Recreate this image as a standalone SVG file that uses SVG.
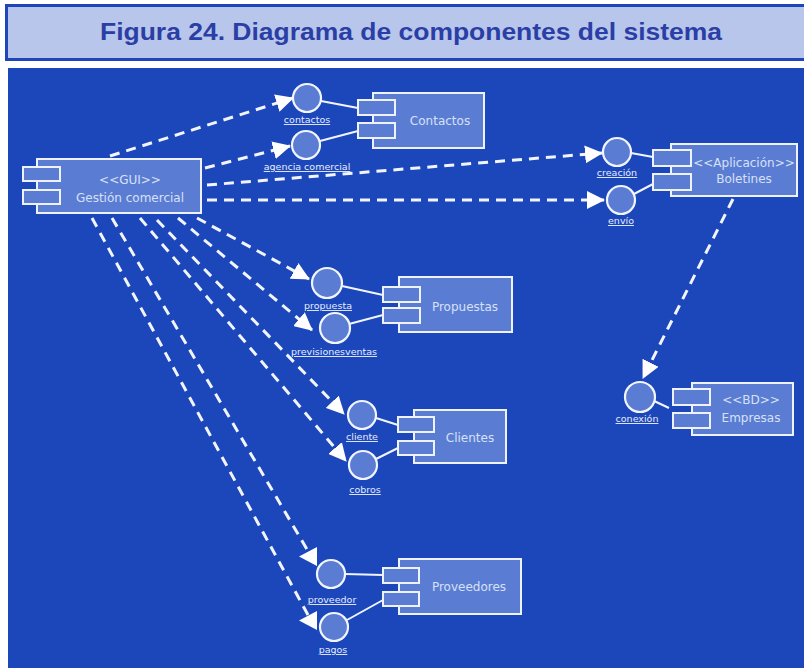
<svg xmlns="http://www.w3.org/2000/svg" width="804" height="670" viewBox="0 0 804 670">
<style>
.comp{fill:#5A7DD3;stroke:#EEF2FF;stroke-width:2}
.tab{fill:#5A7DD3;stroke:#EEF2FF;stroke-width:2}
.ifc{fill:#5A7DD3;stroke:#F2F5FF;stroke-width:2.2}
.ctext{font-family:"DejaVu Sans",sans-serif;font-size:12px;fill:#D8E0F7;text-anchor:middle}
.lbl{font-family:"DejaVu Sans",sans-serif;font-size:9.5px;fill:#E6ECFF;text-anchor:middle;text-decoration:underline}
.link{stroke:#F2F5FF;stroke-width:2;fill:none}
.dep{stroke:#F2F5FF;stroke-width:3;fill:none;stroke-dasharray:10 7}
</style>
<defs>
<marker id="arr" markerUnits="userSpaceOnUse" viewBox="0 0 18 18" markerWidth="18" markerHeight="18" refX="17" refY="9" orient="auto">
<path d="M0,0 L18,9 L0,18 Z" fill="#FFFFFF"/>
</marker>
<marker id="arrL" markerUnits="userSpaceOnUse" viewBox="0 0 18 19" markerWidth="18" markerHeight="19" refX="9" refY="4" orient="0">
<path d="M18,0 L18,19 L0,9.5 Z" fill="#FFFFFF"/>
</marker>
</defs>

<rect x="0" y="0" width="804" height="670" fill="#FFFFFF"/>
<g id="title">
<rect x="6.5" y="5.5" width="800" height="54" fill="#B8C6EB" stroke="#1E45B9" stroke-width="3"/>
<text x="411" y="40" font-family="Liberation Sans, sans-serif" font-weight="bold" font-size="23" fill="#2A3EA6" text-anchor="middle" textLength="622" lengthAdjust="spacingAndGlyphs">Figura 24. Diagrama de componentes del sistema</text>
</g>
<rect id="background" x="8" y="68" width="800" height="600" fill="#1B47BA"/>

<g id="connectors">
<line class="dep" x1="110" y1="156" x2="293" y2="98" marker-end="url(#arr)"/>
<line class="dep" x1="205" y1="168" x2="290" y2="146" marker-end="url(#arr)"/>
<line class="dep" x1="207" y1="185" x2="602" y2="153" marker-end="url(#arr)"/>
<line class="dep" x1="207" y1="200" x2="604" y2="200" marker-end="url(#arr)"/>
<line class="dep" x1="197" y1="218" x2="309" y2="279" marker-end="url(#arr)"/>
<line class="dep" x1="178" y1="218" x2="312" y2="330" marker-end="url(#arr)"/>
<line class="dep" x1="157" y1="220" x2="344" y2="414" marker-end="url(#arr)"/>
<line class="dep" x1="140" y1="218" x2="346" y2="461" marker-end="url(#arr)"/>
<line class="dep" x1="112" y1="218" x2="308" y2="551" marker-end="url(#arrL)"/>
<line class="dep" x1="92" y1="218" x2="308" y2="615" marker-end="url(#arrL)"/>
<line class="dep" x1="733" y1="199" x2="643" y2="378" marker-end="url(#arr)"/>
<line class="link" x1="321" y1="101" x2="358" y2="108"/>
<line class="link" x1="320" y1="141" x2="358" y2="131"/>
<line class="link" x1="631" y1="153" x2="653" y2="157"/>
<line class="link" x1="634" y1="194" x2="653" y2="184"/>
<line class="link" x1="342" y1="286" x2="383" y2="295"/>
<line class="link" x1="349" y1="324" x2="383" y2="315"/>
<line class="link" x1="376" y1="418" x2="398" y2="425"/>
<line class="link" x1="376" y1="459" x2="398" y2="448"/>
<line class="link" x1="345" y1="574" x2="383" y2="575"/>
<line class="link" x1="347" y1="620" x2="383" y2="600"/>
<line class="link" x1="652" y1="400" x2="669" y2="408"/>
</g>

<g id="gui">
<rect class="comp" x="37" y="159" width="164" height="54"/>
<rect class="tab" x="23" y="167" width="37" height="14"/>
<rect class="tab" x="23" y="190" width="37" height="14"/>
<text class="ctext" x="130" y="184">&lt;&lt;GUI&gt;&gt;</text>
<text class="ctext" x="130" y="202">Gestión comercial</text>
</g>

<g id="contactos">
<rect class="comp" x="373" y="93" width="111" height="55"/>
<rect class="tab" x="358" y="100" width="37" height="15"/>
<rect class="tab" x="358" y="123" width="37" height="15"/>
<text class="ctext" x="440" y="125">Contactos</text>
</g>
<g id="if-contactos">
<circle class="ifc" cx="307" cy="98" r="14"/>
<text class="lbl" x="307" y="123">contactos</text>
</g>
<g id="if-agencia">
<circle class="ifc" cx="306" cy="145" r="14"/>
<text class="lbl" x="307" y="170">agencia comercial</text>
</g>

<g id="boletines">
<rect class="comp" x="671" y="144" width="126" height="52"/>
<rect class="tab" x="653" y="150" width="38" height="16"/>
<rect class="tab" x="653" y="174" width="38" height="16"/>
<text class="ctext" x="744" y="167" font-size="11">&lt;&lt;Aplicación&gt;&gt;</text>
<text class="ctext" x="744" y="183">Boletines</text>
</g>
<g id="if-creacion">
<circle class="ifc" cx="617" cy="152" r="14"/>
<text class="lbl" x="617" y="176">creación</text>
</g>
<g id="if-envio">
<circle class="ifc" cx="621" cy="200" r="14"/>
<text class="lbl" x="621" y="224">envío</text>
</g>

<g id="propuestas">
<rect class="comp" x="399" y="277" width="113" height="55"/>
<rect class="tab" x="383" y="287" width="37" height="15"/>
<rect class="tab" x="383" y="308" width="37" height="15"/>
<text class="ctext" x="465" y="311">Propuestas</text>
</g>
<g id="if-propuesta">
<circle class="ifc" cx="327" cy="283" r="15"/>
<text class="lbl" x="328" y="309">propuesta</text>
</g>
<g id="if-prevision">
<circle class="ifc" cx="335" cy="328" r="15"/>
<text class="lbl" x="334" y="355">previsionesventas</text>
</g>

<g id="clientes">
<rect class="comp" x="414" y="410" width="92" height="53"/>
<rect class="tab" x="398" y="417" width="36" height="15"/>
<rect class="tab" x="398" y="441" width="36" height="14"/>
<text class="ctext" x="470" y="442">Clientes</text>
</g>
<g id="if-cliente">
<circle class="ifc" cx="362" cy="415" r="14"/>
<text class="lbl" x="362" y="440">cliente</text>
</g>
<g id="if-cobros">
<circle class="ifc" cx="363" cy="465" r="14"/>
<text class="lbl" x="365" y="493">cobros</text>
</g>

<g id="proveedores">
<rect class="comp" x="399" y="559" width="122" height="55"/>
<rect class="tab" x="383" y="568" width="36" height="15"/>
<rect class="tab" x="383" y="592" width="36" height="14"/>
<text class="ctext" x="469" y="591">Proveedores</text>
</g>
<g id="if-proveedor">
<circle class="ifc" cx="331" cy="574" r="14"/>
<text class="lbl" x="332" y="603">proveedor</text>
</g>
<g id="if-pagos">
<circle class="ifc" cx="334" cy="627" r="14"/>
<text class="lbl" x="333" y="653">pagos</text>
</g>

<g id="empresas">
<rect class="comp" x="692" y="383" width="101" height="52"/>
<rect class="tab" x="673" y="389" width="37" height="16"/>
<rect class="tab" x="673" y="413" width="37" height="15"/>
<text class="ctext" x="751" y="404" font-size="11">&lt;&lt;BD&gt;&gt;</text>
<text class="ctext" x="751" y="422">Empresas</text>
</g>
<g id="if-conexion">
<circle class="ifc" cx="640" cy="397" r="15"/>
<text class="lbl" x="637" y="422">conexión</text>
</g>
</svg>
